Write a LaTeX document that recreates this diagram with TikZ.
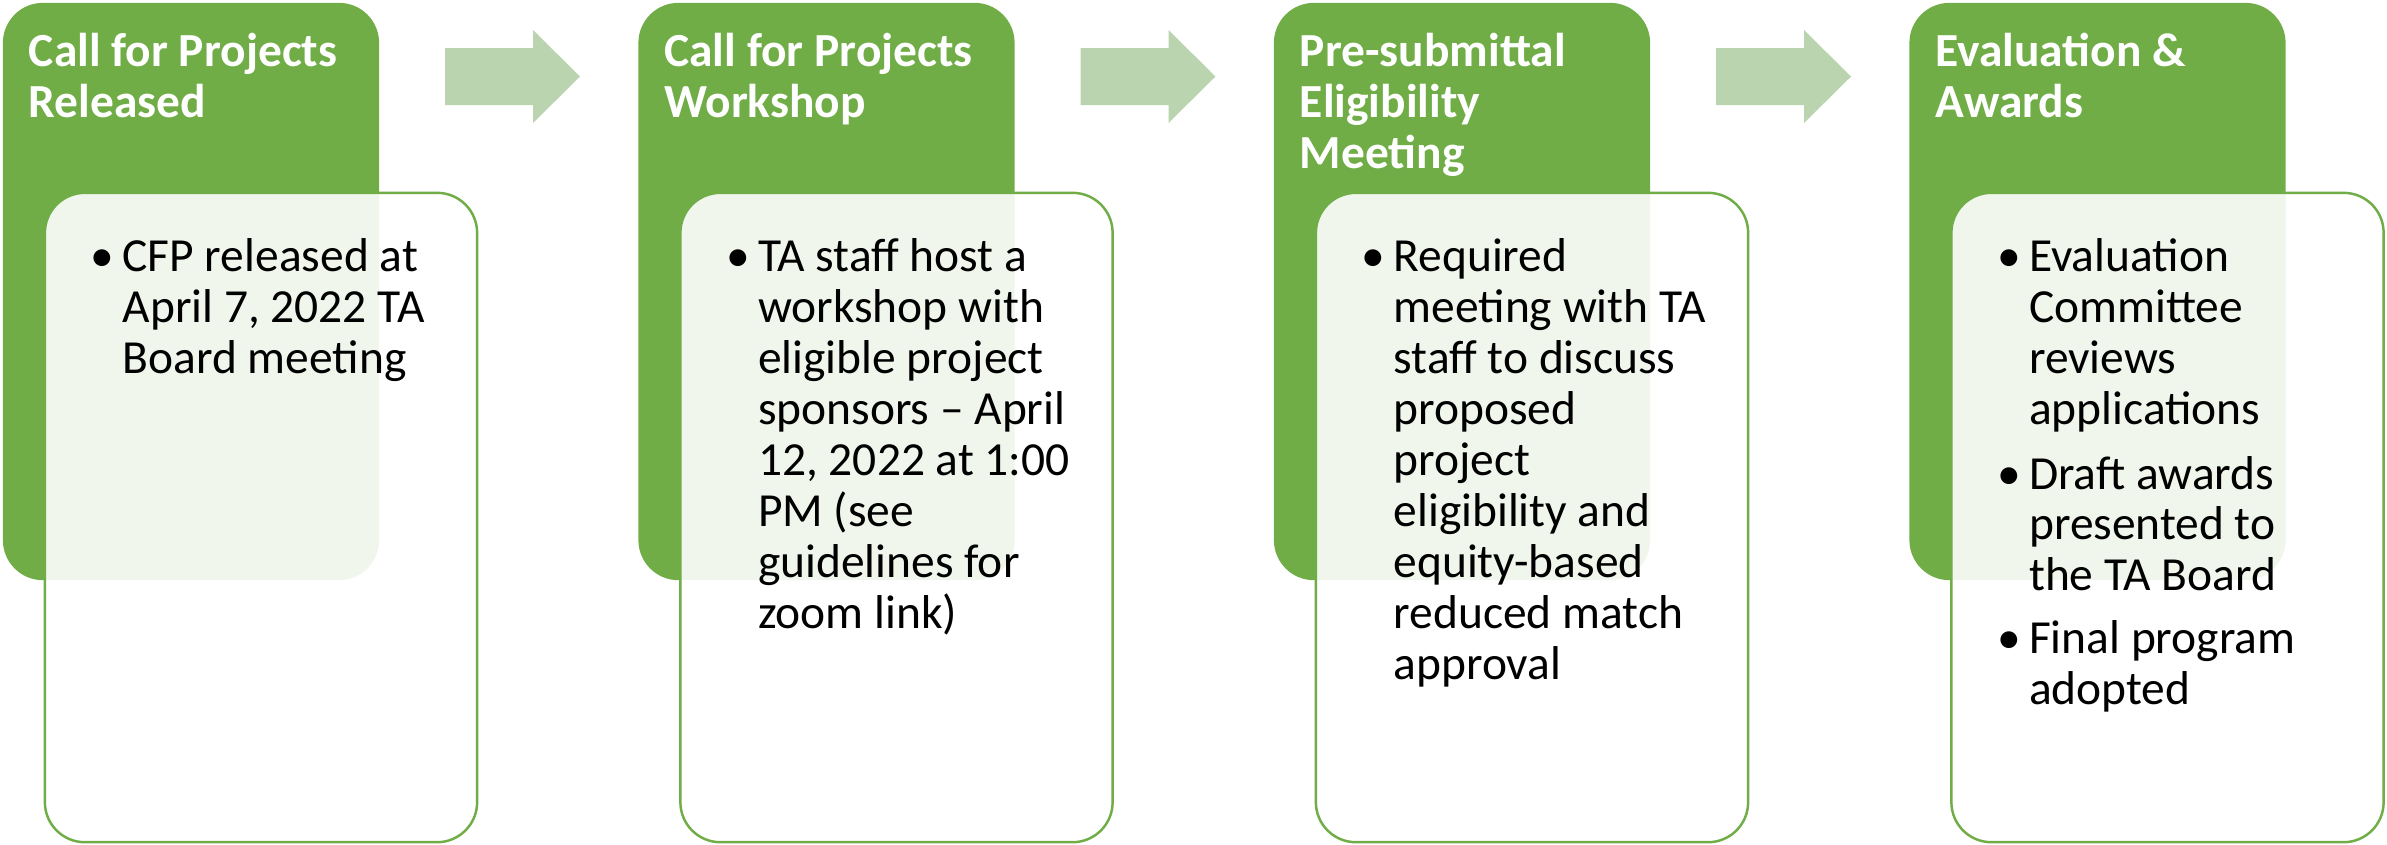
\documentclass[tikz,border=0pt]{standalone}
\usepackage{fontspec}
\setmainfont{Carlito}
\usepackage{tikz}
\usetikzlibrary{positioning}

\definecolor{stagegreen}{HTML}{70AD47}
\definecolor{arrowgreen}{HTML}{BBD4B0}

% lines of a label, with the baseline of the first line as the node's base
\newcommand{\stagelines}[1]{\begin{tabular}[t]{@{}l@{}}#1\end{tabular}}

\tikzset{
  stagebox/.style={fill=stagegreen,rounded corners=0.4cm,minimum width=3.76cm,minimum height=5.77cm,inner sep=0pt},
  detailbox/.style={draw=stagegreen,line width=0.7pt,fill=white,fill opacity=0.9,rounded corners=0.4cm,minimum width=4.32cm,minimum height=6.49cm,inner sep=0pt,outer sep=0pt},
  stagetitle/.style={text=white,font=\bfseries\fontsize{13.5}{14.5}\selectfont,anchor=base west,inner sep=0pt},
  detailtext/.style={font=\fontsize{13.5}{14.5}\selectfont,anchor=base west,inner sep=0pt},
}

\begin{document}
\begin{tikzpicture}[x=0.01cm,y=-0.01cm]
  \useasboundingbox (0,0) rectangle (2387,844);
  % block arrows between the stages
  \foreach \dx in {0,635.5,1271} {
    \fill[arrowgreen] (445+\dx,48) -- (533+\dx,48) -- (533+\dx,30) -- (580+\dx,76.5)
      -- (533+\dx,123) -- (533+\dx,105) -- (445+\dx,105) -- cycle;
  }
  % stage 1
  \node[stagebox] (stage1) at (191,291.5) {};
  \node[stagetitle] (title1) at ([xshift=0.26cm,yshift=-0.64cm]stage1.north west) {\stagelines{Call for Projects\\Released}};
  \node[detailbox] (detail1) at (261,517.5) {};
  \node[detailtext] (dot1) at ([xshift=0.45cm,yshift=-0.79cm]detail1.north west) {\textbullet};
  \node[detailtext] (text1) at ([xshift=0.77cm,yshift=-0.79cm]detail1.north west) {\stagelines{CFP released at\\April 7, 2022 TA\\Board meeting}};
  % stage 2
  \node[stagebox] (stage2) at (826.5,291.5) {};
  \node[stagetitle] (title2) at ([xshift=0.26cm,yshift=-0.64cm]stage2.north west) {\stagelines{Call for Projects\\Workshop}};
  \node[detailbox] (detail2) at (896.5,517.5) {};
  \node[detailtext] (dot2) at ([xshift=0.45cm,yshift=-0.79cm]detail2.north west) {\textbullet};
  \node[detailtext] (text2) at ([xshift=0.77cm,yshift=-0.79cm]detail2.north west) {\stagelines{TA staff host a\\workshop with\\eligible project\\sponsors -- April\\12, 2022 at 1:00\\PM (see\\guidelines for\\zoom link)}};
  % stage 3
  \node[stagebox] (stage3) at (1462,291.5) {};
  \node[stagetitle] (title3) at ([xshift=0.26cm,yshift=-0.64cm]stage3.north west) {\stagelines{Pre-submittal\\Eligibility\\Meeting}};
  \node[detailbox] (detail3) at (1532,517.5) {};
  \node[detailtext] (dot3) at ([xshift=0.45cm,yshift=-0.79cm]detail3.north west) {\textbullet};
  \node[detailtext] (text3) at ([xshift=0.77cm,yshift=-0.79cm]detail3.north west) {\stagelines{Required\\meeting with TA\\staff to discuss\\proposed\\project\\eligibility and\\equity-based\\reduced match\\approval}};
  % stage 4
  \node[stagebox] (stage4) at (2097.5,291.5) {};
  \node[stagetitle] (title4) at ([xshift=0.26cm,yshift=-0.64cm]stage4.north west) {\stagelines{Evaluation \&\\Awards}};
  \node[detailbox] (detail4) at (2167.5,517.5) {};
  \node[detailtext] (dot4a) at ([xshift=0.45cm,yshift=-0.79cm]detail4.north west) {\textbullet};
  \node[detailtext] (text4a) at ([xshift=0.77cm,yshift=-0.79cm]detail4.north west) {\stagelines{Evaluation\\Committee\\reviews\\applications}};
  \node[detailtext] (dot4b) at ([xshift=0.45cm,yshift=-2.96cm]detail4.north west) {\textbullet};
  \node[detailtext] (text4b) at ([xshift=0.77cm,yshift=-2.96cm]detail4.north west) {\stagelines{Draft awards\\presented to\\the TA Board}};
  \node[detailtext] (dot4c) at ([xshift=0.45cm,yshift=-4.6cm]detail4.north west) {\textbullet};
  \node[detailtext] (text4c) at ([xshift=0.77cm,yshift=-4.6cm]detail4.north west) {\stagelines{Final program\\adopted}};
\end{tikzpicture}
\end{document}
